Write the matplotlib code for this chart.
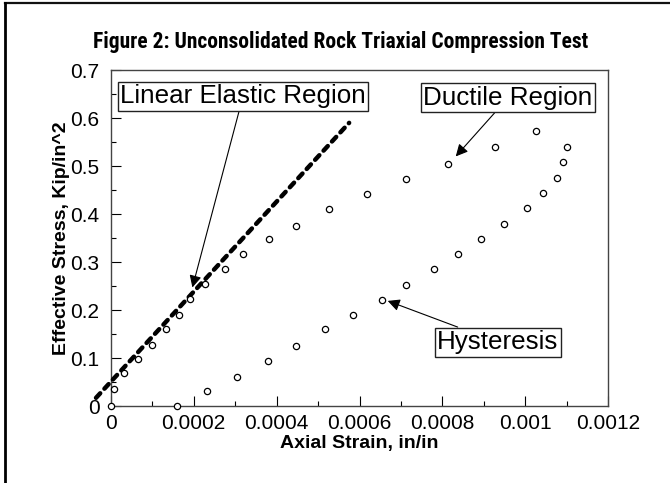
import matplotlib
matplotlib.use("Agg")
import matplotlib.pyplot as plt
from matplotlib.lines import Line2D
from matplotlib.ticker import MultipleLocator
from matplotlib import font_manager

# Data
strain = [0.0, 0.0000079, 0.000032, 0.0000665, 0.0000985, 0.000133, 0.000165,
          0.000191, 0.000227, 0.000276, 0.00032, 0.000381, 0.000448, 0.000527,
          0.000618, 0.000712, 0.000814, 0.000927, 0.001025,
          0.0011, 0.001091, 0.001076, 0.001042, 0.001004, 0.000948, 0.000894,
          0.000837, 0.00078, 0.000713, 0.000654, 0.000584, 0.000516,
          0.000448, 0.00038, 0.000304, 0.000232, 0.000159]
stress = [0.0, 0.035, 0.068, 0.097, 0.127, 0.160, 0.190,
          0.222, 0.2535, 0.285, 0.317, 0.347, 0.376, 0.410,
          0.442, 0.472, 0.505, 0.540, 0.573,
          0.540, 0.508, 0.476, 0.443, 0.4125, 0.380, 0.348,
          0.316, 0.285, 0.253, 0.2215, 0.190, 0.160,
          0.1257, 0.094, 0.061, 0.0306, 0.0]

elastic_x = [-0.0000354, 0.000575]
elastic_y = [0.017, 0.59]

xticks = [0, 0.0002, 0.0004, 0.0006, 0.0008, 0.001, 0.0012]
xticklabels = ["0", "0.0002", "0.0004", "0.0006", "0.0008", "0.001", "0.0012"]
yticks = [0, 0.1, 0.2, 0.3, 0.4, 0.5, 0.6, 0.7]
yticklabels = ["0", "0.1", "0.2", "0.3", "0.4", "0.5", "0.6", "0.7"]

plt.rcParams['font.family'] = ['Liberation Sans', 'DejaVu Sans']

fig = plt.figure(figsize=(6.70, 4.83), dpi=100)
ax = fig.add_axes([0.1652, 0.1594, 0.908 - 0.1652, 0.855 - 0.1594])

ax.plot(elastic_x, elastic_y, color='black', lw=3.2, linestyle=(0, (1.4, 1.4)),
        dash_capstyle='round', clip_on=False, zorder=3)
ax.plot(strain, stress, linestyle='none', marker='o', markersize=4.5,
        markerfacecolor='white', markeredgecolor='black', markeredgewidth=0.9,
        clip_on=False, zorder=4)

ax.set_xlim(0, 0.0012)
ax.set_ylim(0, 0.7)
ax.set_xticks(xticks)
ax.set_xticklabels(xticklabels)
ax.set_yticks(yticks)
ax.set_yticklabels(yticklabels)
ax.xaxis.set_minor_locator(MultipleLocator(0.0001))
ax.yaxis.set_minor_locator(MultipleLocator(0.05))
ax.tick_params(which='major', direction='in', length=7.5, width=0.8, labelsize=15, pad=6)
ax.tick_params(which='minor', direction='in', length=3.7, width=0.8)
ax.tick_params(axis='y', pad=8)
for s in ax.spines.values():
    s.set_linewidth(1.0)
    s.set_color('#444444')

ax.set_xlabel("Axial Strain, in/in", fontsize=14, fontweight='bold', labelpad=1)
ax.set_ylabel("Effective Stress, Kip/in^2", fontsize=14, fontweight='bold', labelpad=0)

# Choose a condensed bold family for the title if available
names = {f.name for f in font_manager.fontManager.ttflist}
title_family = ['Liberation Sans', 'DejaVu Sans']
title_size = 13.2
for cand, size in (('Liberation Sans Narrow', 16), ('Roboto Condensed', 15.5),
                   ('Open Sans Condensed', 15.5)):
    if cand in names:
        title_family = [cand, 'DejaVu Sans']
        title_size = size
        break

fig.text(0.508, 0.913, "Figure 2: Unconsolidated Rock Triaxial Compression Test",
         ha='center', va='center', fontsize=title_size, fontweight='bold',
         family=title_family)

bbox = dict(boxstyle='square,pad=0.1', fc='white', ec='#222222', lw=1.0)
arrow = dict(arrowstyle='-|>', color='black', lw=0.8, mutation_scale=18, shrinkA=0, shrinkB=0)

ax.annotate("Linear Elastic Region", xy=(0.000197, 0.247), xytext=(0.000319, 0.645),
            ha='center', va='center', fontsize=18.7, bbox=bbox, arrowprops=arrow, zorder=6)
ax.annotate("Ductile Region", xy=(0.000832, 0.520), xytext=(0.000958, 0.642),
            ha='center', va='center', fontsize=18.7, bbox=bbox, arrowprops=arrow, zorder=6)
ax.annotate("Hysteresis", xy=(0.000668, 0.219), xytext=(0.000934, 0.133),
            ha='center', va='center', fontsize=18.7, bbox=bbox, arrowprops=arrow, zorder=6)

# figure frame (top and left edges visible)
fig.add_artist(Line2D([4.5/670, 1.0], [1 - 3/483, 1 - 3/483], transform=fig.transFigure,
                      color='#111111', lw=1.6))
fig.add_artist(Line2D([4.5/670, 4.5/670], [0, 1 - 3/483], transform=fig.transFigure,
                      color='black', lw=2.0))

fig.savefig("out.png", dpi=100)
